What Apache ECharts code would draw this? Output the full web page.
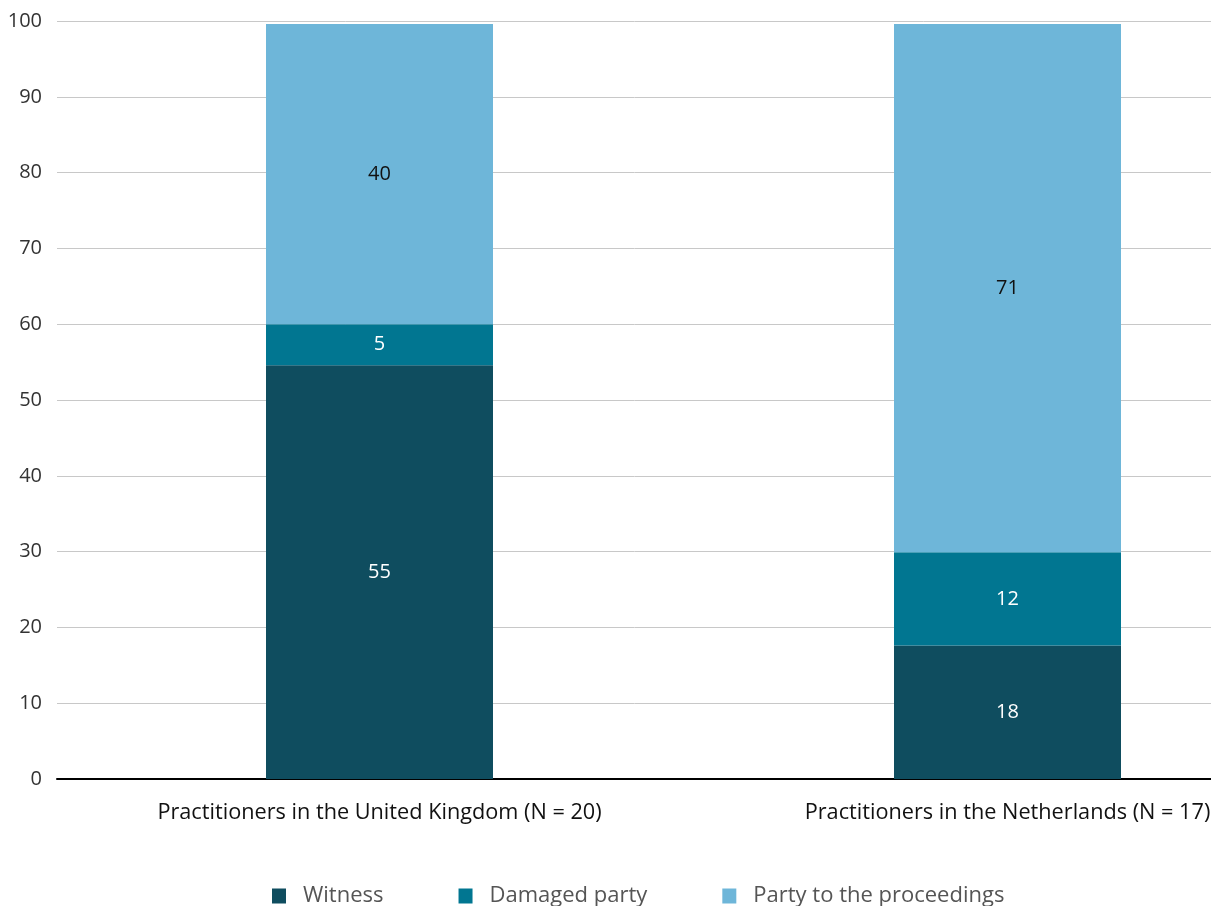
<!DOCTYPE html>
<html>
<head>
<meta charset="utf-8">
<script src="https://cdn.jsdelivr.net/npm/echarts@6/dist/echarts.min.js"></script>
<style>html,body{margin:0;padding:0;background:#fff;}#c{width:1211px;height:906px;}</style>
</head>
<body>
<div id="c"></div>
<script>
const categories = ['Practitioners in the United Kingdom (N = 20)', 'Practitioners in the Netherlands (N = 17)'];
const seriesNames = ['Witness', 'Damaged party', 'Party to the proceedings'];
const witness = [54.6, 17.6];
const damaged = [5.4, 12.3];
const party = [39.6, 69.7];
const witnessLabels = ['55', '18'];
const damagedLabels = ['5', '12'];
const partyLabels = ['40', '71'];
const yTicks = [0, 10, 20, 30, 40, 50, 60, 70, 80, 90, 100];

const colors = ['#0F4D5F', '#017691', '#6EB6D9'];
const FONT = '"Open Sans", "Noto Sans", sans-serif';

function mk(name, data, labels, color, labelColor) {
  return {
    name: name, type: 'bar', stack: 'all', xAxisIndex: 1, yAxisIndex: 1,
    data: data, barWidth: 227, itemStyle: {color: color},
    label: {show: true, position: 'inside', color: labelColor, fontSize: 20, fontFamily: FONT,
      formatter: p => labels[p.dataIndex]},
    emphasis: {disabled: true}
  };
}

const chart = echarts.init(document.getElementById('c'), null, {renderer: 'canvas'});
chart.setOption({
  animation: false,
  backgroundColor: '#ffffff',
  textStyle: {fontFamily: FONT},
  grid: [
    {left: 57, top: 21, height: 758, width: 1300, containLabel: false, outerBoundsMode: 'none'},
    {left: 65.5, top: 21, height: 758, width: 1256, containLabel: false, outerBoundsMode: 'none'}
  ],
  xAxis: [
    {gridIndex: 0, type: 'value', min: 0, max: 1, axisLine: {show: true, onZero: false, lineStyle: {color: '#000', width: 2}},
      axisTick: {show: false}, axisLabel: {show: false}, splitLine: {show: false}},
    {gridIndex: 1, type: 'category', data: categories, axisLine: {show: false}, axisTick: {show: false},
      axisLabel: {color: '#111', fontSize: 21.7, margin: 23, fontFamily: FONT, interval: 0}}
  ],
  yAxis: [
    {gridIndex: 0, type: 'value', min: 0, max: 100, interval: 10, axisLine: {show: false}, axisTick: {show: false},
      axisLabel: {color: '#333', fontSize: 20, margin: 15, fontFamily: FONT,
        formatter: v => yTicks.includes(v) ? String(v) : ''},
      splitLine: {show: true, lineStyle: {color: '#C8C8C8', width: 1}}},
    {gridIndex: 1, type: 'value', min: 0, max: 100, show: false, splitLine: {show: false}}
  ],
  legend: {
    left: 272, top: 885, padding: 0, itemWidth: 14, itemHeight: 15, itemGap: 75, icon: 'rect',
    textStyle: {color: '#555', fontSize: 22, fontFamily: FONT, padding: [0, 0, 0, 12]},
    data: seriesNames
  },
  series: [
    mk(seriesNames[0], witness, witnessLabels, colors[0], '#fff'),
    mk(seriesNames[1], damaged, damagedLabels, colors[1], '#fff'),
    mk(seriesNames[2], party, partyLabels, colors[2], '#111')
  ]
});
</script>
</body>
</html>
